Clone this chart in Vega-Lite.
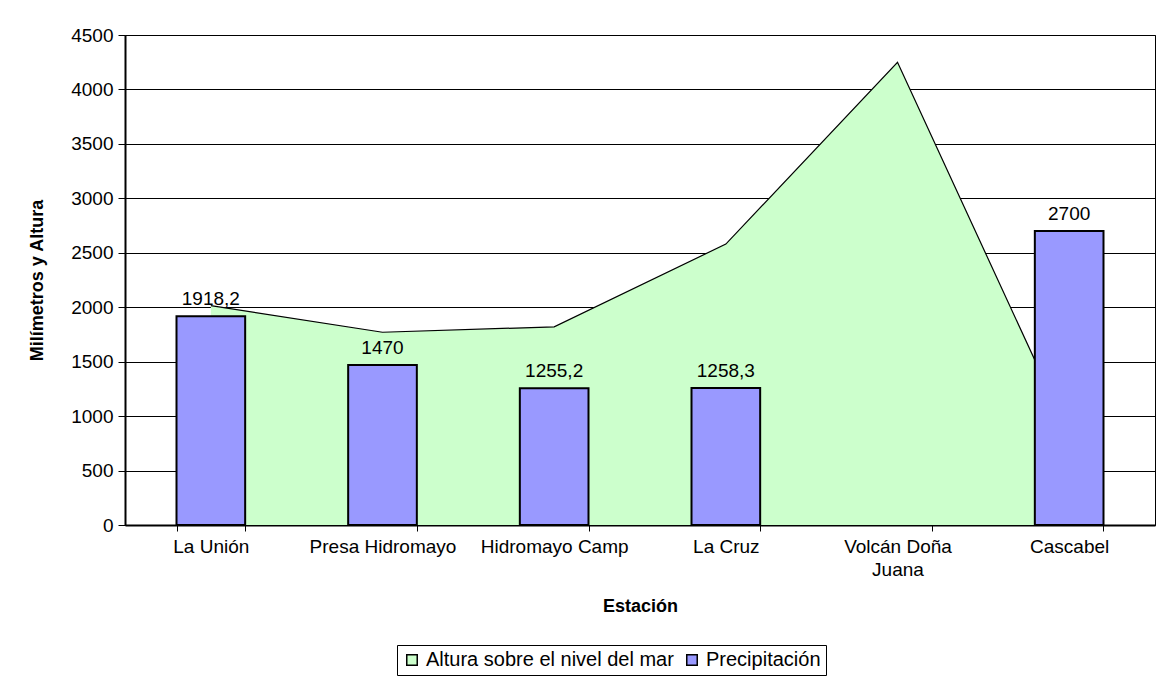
{
  "$schema": "https://vega.github.io/schema/vega-lite/v6.json",
  "width": 1030,
  "height": 490,
  "autosize": {"type": "none"},
  "padding": {"left": 125, "top": 35, "right": 7, "bottom": 158},
  "background": "white",
  "config": {
    "font": "Liberation Sans",
    "view": {"stroke": "black", "strokeWidth": 1}
  },
  "data": {
    "values": [
      {"estacion": "La Unión", "altura": 2015, "precip": 1918.2, "label": "1918,2"},
      {"estacion": "Presa Hidromayo", "altura": 1770, "precip": 1470, "label": "1470"},
      {"estacion": "Hidromayo Camp", "altura": 1820, "precip": 1255.2, "label": "1255,2"},
      {"estacion": "La Cruz", "altura": 2580, "precip": 1258.3, "label": "1258,3"},
      {"estacion": "Volcán Doña Juana", "altura": 4250, "precip": null, "label": ""},
      {"estacion": "Cascabel", "altura": 830, "precip": 2700, "label": "2700"}
    ]
  },
  "layer": [
    {
      "mark": {"type": "area", "opacity": 1},
      "encoding": {
        "x": {
          "field": "estacion", "type": "nominal", "sort": null, "bandPosition": 0.5,
          "scale": {"paddingInner": 0.6, "paddingOuter": 0.3},
          "axis": {
            "title": "Estación", "labelAngle": 0, "tickBand": "extent",
            "domainColor": "black", "domainWidth": 2, "tickColor": "black", "tickSize": 6, "tickWidth": 1,
            "labelFontSize": 19, "labelColor": "black", "labelPadding": 6, "labelLineHeight": 23,
            "labelOverlap": false, "labelLimit": 0,
            "labelExpr": "datum.label == 'Volcán Doña Juana' ? ['Volcán Doña', 'Juana'] : datum.label",
            "titleFontSize": 18, "titleColor": "black", "titlePadding": 18, "grid": false
          }
        },
        "y": {
          "field": "altura", "type": "quantitative",
          "scale": {"domain": [0, 4500], "nice": false},
          "axis": {
            "title": "Milímetros y Altura", "format": "d",
            "values": [0, 500, 1000, 1500, 2000, 2500, 3000, 3500, 4000, 4500],
            "grid": true, "gridColor": "black", "gridOpacity": 1, "gridWidth": 1,
            "domainColor": "black", "domainWidth": 2, "tickColor": "black", "tickSize": 7,
            "labelFontSize": 19, "labelColor": "black", "labelPadding": 5,
            "titleFontSize": 18, "titleColor": "black", "titlePadding": 24
          }
        },
        "fill": {
          "datum": "Altura sobre el nivel del mar",
          "scale": {"domain": ["Altura sobre el nivel del mar", "Precipitación"], "range": ["#CCFFCC", "#9999FF"]},
          "legend": {
            "orient": "none", "legendX": 272, "legendY": 610, "direction": "horizontal",
            "title": null, "strokeColor": "black", "padding": 5,
            "symbolType": "square", "symbolSize": 110, "symbolStrokeColor": "black", "symbolStrokeWidth": 1.5,
            "labelFontSize": 20, "labelColor": "black", "labelLimit": 0, "columnPadding": 8, "labelOffset": 4
          }
        }
      }
    },
    {
      "mark": {"type": "line", "color": "black", "strokeWidth": 1.2},
      "encoding": {
        "x": {"field": "estacion", "type": "nominal", "sort": null, "bandPosition": 0.5},
        "y": {"field": "altura", "type": "quantitative"}
      }
    },
    {
      "mark": {"type": "bar", "stroke": "black", "strokeWidth": 2},
      "encoding": {
        "x": {"field": "estacion", "type": "nominal", "sort": null},
        "y": {"field": "precip", "type": "quantitative"},
        "fill": {"datum": "Precipitación"}
      }
    },
    {
      "mark": {"type": "text", "baseline": "bottom", "dy": -7, "fontSize": 19, "color": "black"},
      "encoding": {
        "x": {"field": "estacion", "type": "nominal", "sort": null, "bandPosition": 0.5},
        "y": {"field": "precip", "type": "quantitative"},
        "text": {"field": "label"}
      }
    }
  ]
}
